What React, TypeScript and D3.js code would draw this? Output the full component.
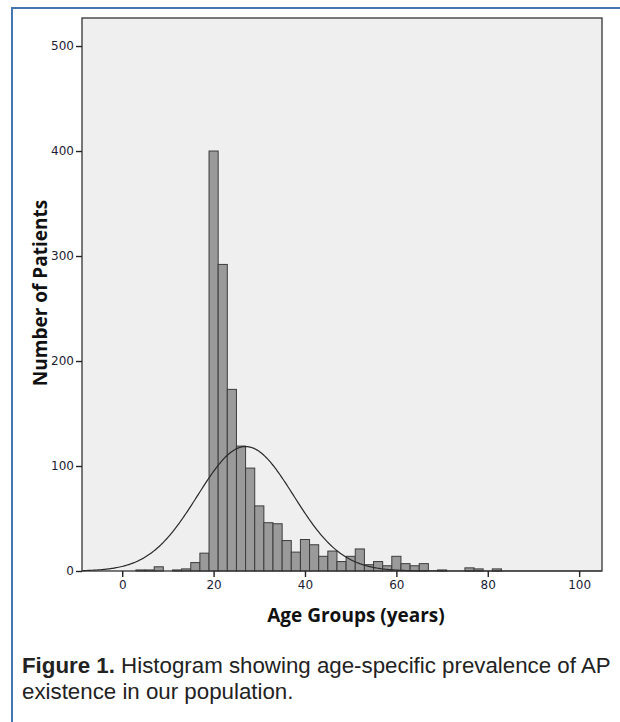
import React, { useEffect, useRef } from 'react';
import * as d3 from 'd3';

// bin centres (2-year bins) and patient counts
const ageBins = [4, 6, 8, 10, 12, 14, 16, 18, 20, 22, 24, 26, 28, 30, 32, 34, 36, 38, 40, 42, 44, 46, 48, 50, 52, 54, 56, 58, 60, 62, 64, 66, 68, 70, 72, 74, 76, 78, 80, 82];
const patientCounts = [1, 1, 4, 0, 1, 2, 8, 17, 400, 292, 173, 119, 98, 62, 46, 45, 29, 18, 30, 25, 14, 19, 9, 14, 21, 6, 9, 5, 14, 7, 5, 7, 0, 1, 0, 0, 3, 2, 0, 2];
const binWidth = 2;

const xTicks = [0, 20, 40, 60, 80, 100];
const yTicks = [0, 100, 200, 300, 400, 500];

// normal curve overlay (mean / sd / area)
const curveMean = 27;
const curveSd = 10.5;
const curveTotal = 1560;

const captionBold = 'Figure 1.';
const captionLine1 = ' Histogram showing age-specific prevalence of AP';
const captionLine2 = 'existence in our population.';

const W = 620;
const H = 722;

const App: React.FC = () => {
  const ref = useRef<SVGSVGElement | null>(null);

  useEffect(() => {
    if (!ref.current) return;
    const svg = d3.select(ref.current);
    svg.selectAll('*').remove();

    const plot = { left: 82, right: 602, top: 18, bottom: 571 };

    const x = d3.scaleLinear().domain([-8.8, 105]).range([plot.left, plot.right]);
    const y = d3.scaleLinear().domain([0, 526.7]).range([plot.bottom, plot.top]);

    svg.append('rect').attr('width', W).attr('height', H).attr('fill', '#fff');

    // outer blue frame
    svg
      .append('rect')
      .attr('x', 12)
      .attr('y', 8)
      .attr('width', W + 20)
      .attr('height', H + 20)
      .attr('fill', 'none')
      .attr('stroke', '#4677b0')
      .attr('stroke-width', 2);

    // plot background
    svg
      .append('rect')
      .attr('x', plot.left)
      .attr('y', plot.top)
      .attr('width', plot.right - plot.left)
      .attr('height', plot.bottom - plot.top)
      .attr('fill', '#efefef');

    const data = ageBins.map((a, i) => ({ age: a, n: patientCounts[i] })).filter((d) => d.n > 0);

    svg
      .append('g')
      .selectAll('rect')
      .data(data)
      .enter()
      .append('rect')
      .attr('x', (d) => x(d.age - binWidth / 2))
      .attr('y', (d) => y(d.n))
      .attr('width', (d) => x(d.age + binWidth / 2) - x(d.age - binWidth / 2))
      .attr('height', (d) => y(0) - y(d.n))
      .attr('fill', '#9a9a9a')
      .attr('stroke', '#3c3c3c')
      .attr('stroke-width', 1);

    // normal curve
    const xs = d3.range(-8.8, 105.01, 0.25);
    const normal = (v: number) =>
      ((curveTotal * binWidth) / (curveSd * Math.sqrt(2 * Math.PI))) *
      Math.exp(-((v - curveMean) ** 2) / (2 * curveSd * curveSd));
    svg
      .append('path')
      .datum(xs)
      .attr('fill', 'none')
      .attr('stroke', '#2a2a2a')
      .attr('stroke-width', 1.2)
      .attr(
        'd',
        d3
          .line<number>()
          .x((v) => x(v))
          .y((v) => y(normal(v)))
      );

    // plot frame
    svg
      .append('rect')
      .attr('x', plot.left)
      .attr('y', plot.top)
      .attr('width', plot.right - plot.left)
      .attr('height', plot.bottom - plot.top)
      .attr('fill', 'none')
      .attr('stroke', '#333')
      .attr('stroke-width', 1.3);

    const tickFont = '"DejaVu Sans", sans-serif';

    // y axis
    const yAxis = svg
      .append('g')
      .attr('transform', `translate(${plot.left},0)`)
      .call(d3.axisLeft(y).tickValues(yTicks).tickSize(6).tickPadding(2).tickSizeOuter(0));
    yAxis.select('.domain').remove();
    yAxis.selectAll('line').attr('stroke', '#222').attr('stroke-width', 1.4);
    yAxis.selectAll('text').attr('font-family', tickFont).attr('font-size', 12).attr('fill', '#1c1c34');

    // x axis
    const xAxis = svg
      .append('g')
      .attr('transform', `translate(0,${plot.bottom})`)
      .call(d3.axisBottom(x).tickValues(xTicks).tickSize(6).tickPadding(3).tickSizeOuter(0));
    xAxis.select('.domain').remove();
    xAxis.selectAll('line').attr('stroke', '#222').attr('stroke-width', 1.4);
    xAxis.selectAll('text').attr('font-family', tickFont).attr('font-size', 12).attr('fill', '#1c1c34');

    const titleFont = '"Open Sans", sans-serif';

    svg
      .append('text')
      .attr('transform', `translate(47,293) rotate(-90)`)
      .attr('text-anchor', 'middle')
      .attr('font-family', titleFont)
      .attr('font-weight', 'bold')
      .attr('font-size', 19)
      .attr('fill', '#111')
      .text('Number of Patients');

    svg
      .append('text')
      .attr('x', 356)
      .attr('y', 622)
      .attr('text-anchor', 'middle')
      .attr('font-family', titleFont)
      .attr('font-weight', 'bold')
      .attr('font-size', 19)
      .attr('fill', '#111')
      .text('Age Groups (years)');

    // caption
    const capFont = '"Liberation Sans", Arial, sans-serif';
    const cap1 = svg
      .append('text')
      .attr('x', 22)
      .attr('y', 673)
      .attr('font-family', capFont)
      .attr('font-size', 22.3)
      .attr('fill', '#222');
    cap1.append('tspan').attr('font-weight', 'bold').text(captionBold);
    cap1.append('tspan').text(captionLine1);
    svg
      .append('text')
      .attr('x', 22)
      .attr('y', 699)
      .attr('font-family', capFont)
      .attr('font-size', 22.3)
      .attr('fill', '#222')
      .text(captionLine2);
  }, []);

  return (
    <svg
      ref={ref}
      width={W}
      height={H}
      style={{ position: 'absolute', left: 0, top: 0, display: 'block' }}
    />
  );
};

export default App;
